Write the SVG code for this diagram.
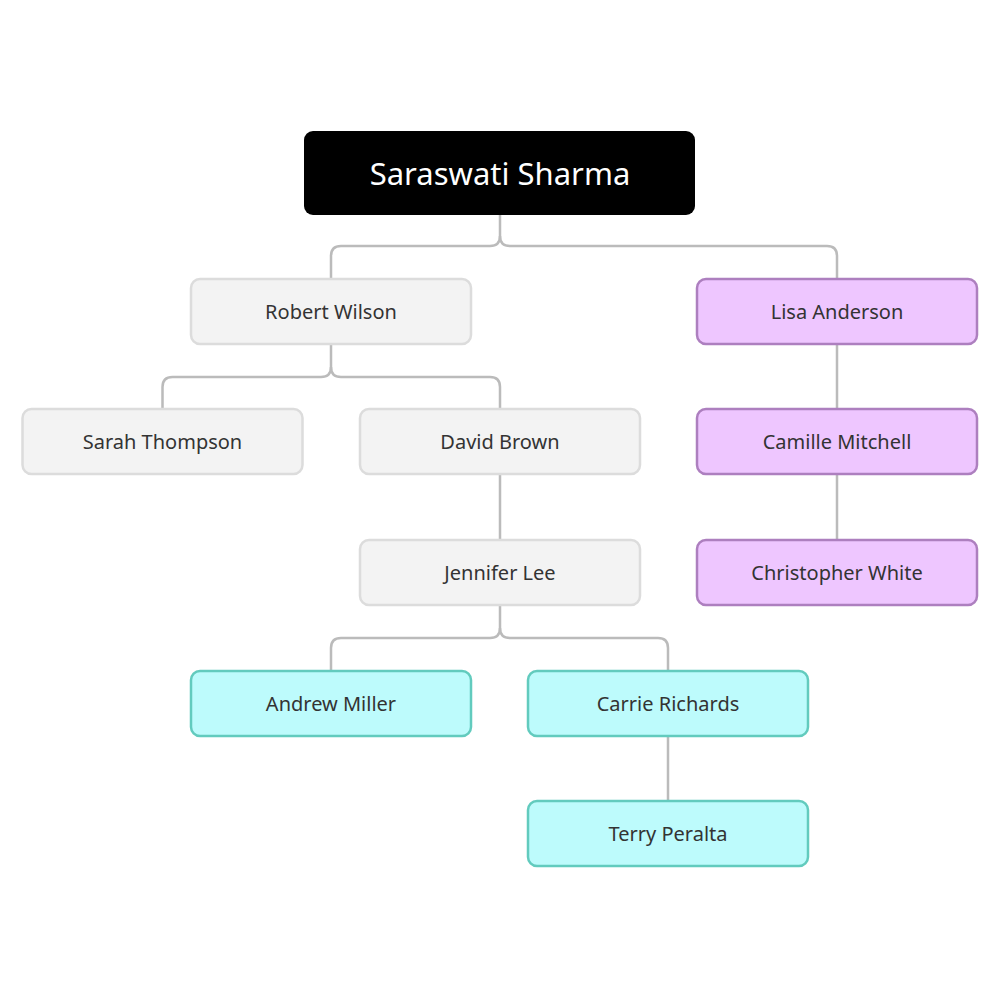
<svg xmlns="http://www.w3.org/2000/svg" width="1000" height="1000" viewBox="0 0 1000 1000">
<style>
.n rect{stroke-width:2.5}
.g rect{fill:#f3f3f3;stroke:#dcdcdc}
.p rect{fill:#eec6ff;stroke:#ad7fbf}
.c rect{fill:#bdfbfc;stroke:#62cbbe}
.n text{font-family:"Noto Sans","Open Sans",sans-serif;font-size:20px;fill:#333;text-anchor:middle;dominant-baseline:central}
.r rect{fill:#000}
.r text{font-family:"Noto Sans","Open Sans",sans-serif;font-size:31px;fill:#fff;text-anchor:middle;dominant-baseline:central}
#edges path{fill:none;stroke:#bbbbbb;stroke-width:2.5}
</style>
<rect width="1000" height="1000" fill="#fff"/>
<g id="edges">
<path d="M500 215 V236 Q500 246 490 246 H341 Q331 246 331 256 V279"/>
<path d="M500 236 Q500 246 510 246 H827 Q837 246 837 256 V279"/>
<path d="M331 344 V367 Q331 377 321 377 H172.5 Q162.5 377 162.5 387 V409"/>
<path d="M331 367 Q331 377 341 377 H490 Q500 377 500 387 V409"/>
<path d="M500 474 V540"/>
<path d="M500 605 V628 Q500 638 490 638 H341 Q331 638 331 648 V671"/>
<path d="M500 628 Q500 638 510 638 H658 Q668 638 668 648 V671"/>
<path d="M668 736 V801"/>
<path d="M837 344 V409"/>
<path d="M837 474 V540"/>
</g>
<g id="root" class="r"><rect x="304" y="131" width="391" height="84" rx="9"/><text x="500" y="173">Saraswati Sharma</text></g>
<g id="robert" class="n g"><rect x="191" y="279" width="280" height="65" rx="9"/><text x="331" y="311.5">Robert Wilson</text></g>
<g id="lisa" class="n p"><rect x="697" y="279" width="280" height="65" rx="9"/><text x="837" y="311.5">Lisa Anderson</text></g>
<g id="sarah" class="n g"><rect x="22.5" y="409" width="280" height="65" rx="9"/><text x="162.5" y="441.5">Sarah Thompson</text></g>
<g id="david" class="n g"><rect x="360" y="409" width="280" height="65" rx="9"/><text x="500" y="441.5">David Brown</text></g>
<g id="camille" class="n p"><rect x="697" y="409" width="280" height="65" rx="9"/><text x="837" y="441.5">Camille Mitchell</text></g>
<g id="jennifer" class="n g"><rect x="360" y="540" width="280" height="65" rx="9"/><text x="500" y="572.5">Jennifer Lee</text></g>
<g id="christopher" class="n p"><rect x="697" y="540" width="280" height="65" rx="9"/><text x="837" y="572.5">Christopher White</text></g>
<g id="andrew" class="n c"><rect x="191" y="671" width="280" height="65" rx="9"/><text x="331" y="703.5">Andrew Miller</text></g>
<g id="carrie" class="n c"><rect x="528" y="671" width="280" height="65" rx="9"/><text x="668" y="703.5">Carrie Richards</text></g>
<g id="terry" class="n c"><rect x="528" y="801" width="280" height="65" rx="9"/><text x="668" y="833.5">Terry Peralta</text></g>
</svg>
